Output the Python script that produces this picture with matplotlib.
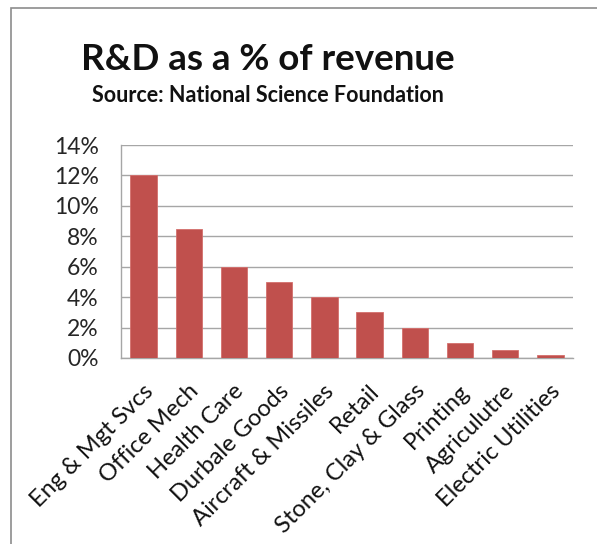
import matplotlib.pyplot as plt
import matplotlib.transforms as mtransforms
from matplotlib.patches import Rectangle
from matplotlib.ticker import FuncFormatter

categories = ['Eng & Mgt Svcs', 'Office Mech', 'Health Care', 'Durbale Goods',
              'Aircraft & Missiles', 'Retail', 'Stone, Clay & Glass', 'Printing',
              'Agriculutre', 'Electric Utilities']
rd_pct = [12, 8.5, 6, 5, 4, 3, 2, 1, 0.5, 0.2]
y_ticks = [0, 2, 4, 6, 8, 10, 12, 14]

plt.rcParams['font.family'] = ['Lato', 'DejaVu Sans']

W, H = 597, 544
fig = plt.figure(figsize=(W / 100, H / 100), dpi=100)

# chart border (only left and top visible)
fig.patches.append(Rectangle((11 / W, -0.1), 1.2, 1 - 8 / H + 0.1, transform=fig.transFigure,
                             fill=False, edgecolor='#8c8c8c', linewidth=1.2))

ax = fig.add_axes([121 / W, 1 - 358 / H, (573 - 121) / W, (358 - 145) / H])
x = range(len(categories))
ax.bar(x, rd_pct, width=0.58, color='#C0504D', edgecolor='#D46F6C', linewidth=0.6, zorder=3)

ax.set_ylim(0, 14)
ax.set_xlim(-0.5, len(categories) - 0.5)
ax.set_yticks(y_ticks)
ax.yaxis.set_major_formatter(FuncFormatter(lambda v, p: f'{v:.0f}%'))
ax.grid(axis='y', color='#a6a6a6', linewidth=1.0, zorder=0)
ax.tick_params(axis='y', length=0, pad=16, labelsize=16.5, colors='#262626')
ax.tick_params(axis='x', length=0, pad=4)
ax.set_xticks(list(x))
ax.set_xticklabels(categories, rotation=45, ha='right', rotation_mode='anchor',
                   fontsize=17, color='#111111')
shift = mtransforms.ScaledTranslation(-1 / 100, -17 / 100, fig.dpi_scale_trans)
for lab in ax.get_xticklabels():
    lab.set_transform(lab.get_transform() + shift)
for s in ['top', 'right']:
    ax.spines[s].set_visible(False)
for s in ['left', 'bottom']:
    ax.spines[s].set_color('#a6a6a6')
    ax.spines[s].set_linewidth(1.0)

fig.text(268 / W, 1 - 60 / H, 'R&D as a % of revenue', ha='center', va='center',
         fontsize=26.5, fontweight='bold', color='#111111')
fig.text(268 / W, 1 - 96 / H, 'Source: National Science Foundation', ha='center', va='center',
         fontsize=15.5, fontweight='bold', color='#111111')

fig.savefig('out.png', dpi=100)
